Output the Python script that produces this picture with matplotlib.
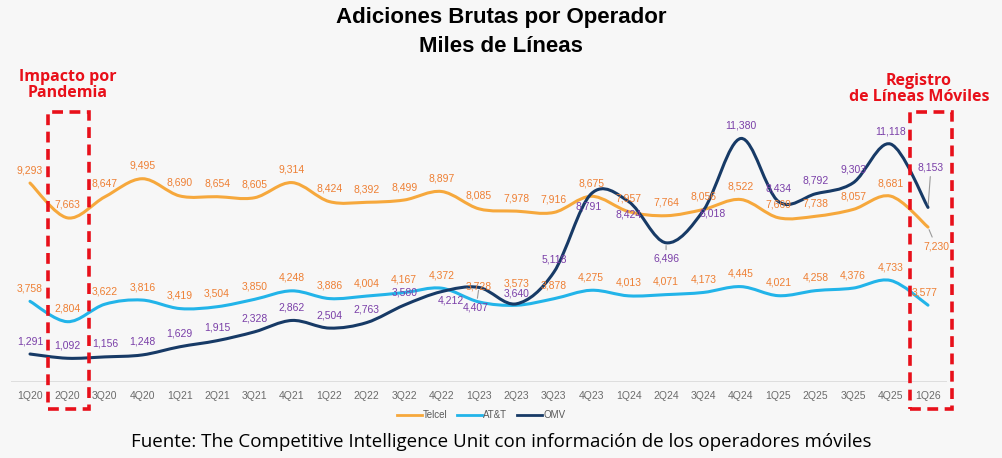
import matplotlib
matplotlib.use("Agg")
import matplotlib.pyplot as plt
from matplotlib.path import Path
from matplotlib.patches import PathPatch, Rectangle
import numpy as np

quarters = ["1Q20", "2Q20", "3Q20", "4Q20", "1Q21", "2Q21", "3Q21", "4Q21",
            "1Q22", "2Q22", "3Q22", "4Q22", "1Q23", "2Q23", "3Q23", "4Q23",
            "1Q24", "2Q24", "3Q24", "4Q24", "1Q25", "2Q25", "3Q25", "4Q25", "1Q26"]
telcel = [9293, 7663, 8647, 9495, 8690, 8654, 8605, 9314, 8424, 8392, 8499, 8897,
          8085, 7978, 7916, 8675, 7957, 7764, 8056, 8522, 7669, 7738, 8057, 8681, 7230]
att = [3758, 2804, 3622, 3816, 3419, 3504, 3850, 4248, 3886, 4004, 4167, 4372,
       3728, 3573, 3878, 4275, 4013, 4071, 4173, 4445, 4021, 4258, 4376, 4733, 3577]
omv = [1291, 1092, 1156, 1248, 1629, 1915, 2328, 2862, 2504, 2763, 3580, 4212,
       4407, 3640, 5118, 8791, 8424, 6496, 8018, 11380, 8434, 8792, 9303, 11118, 8153]
series_names = ["Telcel", "AT&T", "OMV"]

# styles
line_colors = ["#F6A83C", "#22B4E9", "#173A66"]
label_colors = ["#EE7F33", "#EE7F33", "#7A3FA8"]
bg = "#F7F7F7"

# label offsets in pixels (default above the point)
default_off = (0, 13)
special_off = {
    ("AT&T", 12): (0, 15), ("AT&T", 13): (0, 22), ("AT&T", 24): (-3, 13),
    ("OMV", 11): (9, -9), ("OMV", 12): (-3, -20), ("OMV", 13): (0, 10),
    ("OMV", 15): (-3, -13),
    ("OMV", 16): (0, -13), ("OMV", 17): (0, -16), ("OMV", 18): (9, -3),
    ("OMV", 24): (3, 40), ("Telcel", 24): (8, -19),
}
leaders = {("OMV", 12), ("OMV", 17), ("OMV", 24), ("Telcel", 24)}

W, H = 1003, 458
fig = plt.figure(figsize=(W / 100, H / 100), dpi=100, facecolor=bg)
ax = fig.add_axes([11.3 / W, (H - 381.6) / H, (946.7 - 11.3) / W, 256.4 / H])
ax.set_facecolor(bg)
ax.set_xlim(-0.5, len(quarters) - 0.5)
ax.set_ylim(0, 12000)
for s in ax.spines.values():
    s.set_visible(False)
ax.axhline(0, color="#D9D9D9", lw=1.2, zorder=1)
ax.set_yticks([])
x = np.arange(len(quarters))
ax.set_xticks(x)
ax.set_xticklabels(quarters, fontsize=7.5, color="#6B6B6B", family="Liberation Sans")
ax.tick_params(axis="x", length=0, pad=7)


def smooth_path(xs, ys):
    pts = np.column_stack([xs, ys]).astype(float)
    n = len(pts)
    verts = [pts[0]]
    codes = [Path.MOVETO]
    for i in range(n - 1):
        p0 = pts[i - 1] if i > 0 else pts[i]
        p1 = pts[i]
        p2 = pts[i + 1]
        p3 = pts[i + 2] if i + 2 < n else pts[i + 1]
        c1 = p1 + (p2 - p0) / 6.0
        c2 = p2 - (p3 - p1) / 6.0
        verts += [c1, c2, p2]
        codes += [Path.CURVE4] * 3
    return Path(verts, codes)


all_series = [telcel, att, omv]
handles = []
for name, vals, lc in zip(series_names, all_series, line_colors):
    patch = PathPatch(smooth_path(x, vals), facecolor="none", edgecolor=lc,
                      lw=2.2, capstyle="round", joinstyle="round", zorder=3)
    ax.add_patch(patch)
    h, = ax.plot([], [], color=lc, lw=2.0, label=name)
    handles.append(h)

for name, vals, tc in zip(series_names, all_series, label_colors):
    for i, v in enumerate(vals):
        off = special_off.get((name, i), default_off)
        kw = {}
        if (name, i) in leaders:
            kw["arrowprops"] = dict(arrowstyle="-", color="#9A9A9A", lw=0.8,
                                    shrinkA=1, shrinkB=2)
        ax.annotate(f"{v:,}", (i, v), xytext=off, textcoords="offset pixels",
                    ha="center", va="center", fontsize=7.5, color=tc,
                    family="Liberation Sans", zorder=5, **kw)

leg = fig.legend(handles=handles, loc="center", bbox_to_anchor=(481 / W, 1 - 415 / H),
                 ncol=3, frameon=False, handlelength=2.6,
                 handletextpad=0.1, columnspacing=1.0,
                 prop={"family": "Liberation Sans", "size": 7})
for t in leg.get_texts():
    t.set_color("#595959")

fig.text(501 / W, 1 - 17 / H, "Adiciones Brutas por Operador", ha="center", va="center",
         fontsize=16, fontweight="bold", family="Liberation Sans", color="black")
fig.text(501 / W, 1 - 46 / H, "Miles de Líneas", ha="center", va="center",
         fontsize=16, fontweight="bold", family="Liberation Sans", color="black")

red = "#E8101A"
fig.text(68 / W, 1 - 85 / H, "Impacto por\nPandemia", ha="center", va="center",
         fontsize=11.5, fontweight="bold", family="Open Sans", color=red,
         linespacing=1.05)
fig.text(919 / W, 1 - 89 / H, "Registro\nde Líneas Móviles", ha="center", va="center",
         fontsize=11.5, fontweight="bold", family="Open Sans", color=red,
         linespacing=1.05)
for (x0, x1) in [(48, 89), (910, 952)]:
    fig.patches.append(Rectangle((x0 / W, 1 - 409 / H), (x1 - x0) / W, (409 - 112) / H,
                                 transform=fig.transFigure, fill=False, edgecolor=red,
                                 lw=2.6, linestyle=(0, (3, 1.8)), zorder=10))

fig.text(501 / W, 1 - 442 / H,
         "Fuente: The Competitive Intelligence Unit con información de los operadores móviles",
         ha="center", va="center", fontsize=13.5, family="Open Sans", color="black")

fig.savefig("out.png", dpi=100, facecolor=bg)
